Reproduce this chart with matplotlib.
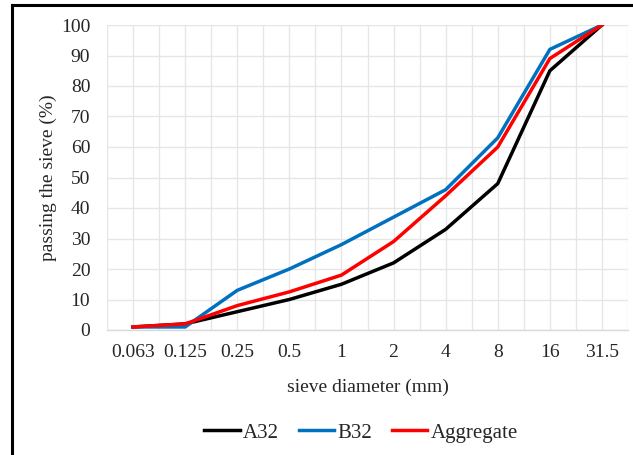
import matplotlib
matplotlib.use("Agg")
import matplotlib.pyplot as plt
from matplotlib.lines import Line2D
import numpy as np

sieves = ["0.063", "0.125", "0.25", "0.5", "1", "2", "4", "8", "16", "31.5"]
a32 = [1, 2, 6, 10, 15, 22, 33, 48, 85, 100]
b32 = [1, 1, 13, 20, 28, 37, 46, 63, 92, 100]
aggregate = [1, 2, 8, 12.5, 18, 29, 44, 60, 89, 100]
yticks = list(range(0, 101, 10))

plt.rcParams['font.family'] = ['Liberation Serif', 'DejaVu Serif']

fig = plt.figure(figsize=(6.33, 4.55), dpi=100)
ax = fig.add_axes([107/633, 1-330/455, (628-107)/633, (330-25)/455])

x = np.arange(len(sieves))
ax.plot(x, a32, color='#000000', lw=2.5, label='A32', solid_joinstyle='round')
ax.plot(x, b32, color='#0070C0', lw=2.5, label='B32', solid_joinstyle='round')
ax.plot(x, aggregate, color='#FF0000', lw=2.5, label='Aggregate', solid_joinstyle='round')

ax.set_xlim(-0.5, len(sieves) - 0.5)
ax.set_ylim(0, 100)
ax.set_xticks(x)
ax.set_xticklabels(sieves)
ax.set_xticks(np.arange(-0.5, len(sieves), 1.0), minor=True)
ax.set_yticks(yticks)
ax.tick_params(axis='both', which='both', length=0, labelsize=14, colors='#262626')
ax.tick_params(axis='y', pad=12)
ax.tick_params(axis='x', pad=10)
ax.grid(True, which='major', axis='both', color='#E6E6E6', lw=1)
ax.grid(True, which='minor', axis='x', color='#E6E6E6', lw=1)
ax.set_axisbelow(True)
for s in ['top', 'right', 'left']:
    ax.spines[s].set_visible(False)
ax.spines['bottom'].set_color('#D9D9D9')
ax.spines['bottom'].set_linewidth(1)

ax.set_xlabel('sieve diameter (mm)', fontsize=14, color='#262626', labelpad=13)
ax.set_ylabel('passing the sieve (%)', fontsize=14, color='#262626', labelpad=3)

leg = fig.legend(loc='center', bbox_to_anchor=(361/633, 1-433/455), ncol=3, frameon=False,
                 fontsize=15, handlelength=1.7, handletextpad=0.15, columnspacing=0.95)
for t in leg.get_texts():
    t.set_color('#262626')

# figure frame (extends beyond right/bottom edges)
fig.add_artist(Line2D([12/633, 12/633], [-0.1, 1-5/455], transform=fig.transFigure, color='black', lw=2.2))
fig.add_artist(Line2D([12/633, 1.1], [1-5/455, 1-5/455], transform=fig.transFigure, color='black', lw=2.2))

fig.savefig('out.png', dpi=100)
